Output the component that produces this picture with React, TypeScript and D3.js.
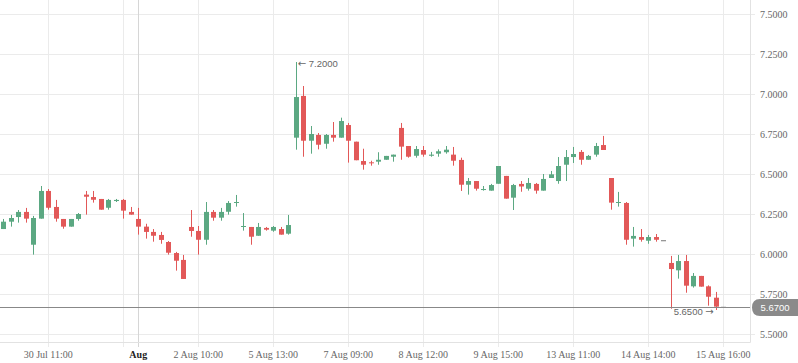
import React, { useRef, useEffect } from 'react';
import * as d3 from 'd3';

// OHLC values, one entry per candle
const opens = [
  6.156, 6.202, 6.231, 6.263, 6.058, 6.221, 6.394, 6.294, 6.219, 6.171,
  6.219, 6.371, 6.356, 6.344, 6.289, 6.331, 6.338, 6.263, 6.219, 6.171,
  6.138, 6.119, 6.075, 6.006, 5.963, 6.169, 6.144, 6.089, 6.263, 6.227,
  6.264, 6.321, 6.171, 6.169, 6.114, 6.163, 6.146, 6.156, 6.127, 6.727,
  6.988, 6.708, 6.744, 6.689, 6.744, 6.727, 6.806, 6.702, 6.581, 6.573,
  6.577, 6.589, 6.608, 6.788, 6.675, 6.614, 6.65, 6.614, 6.627, 6.636,
  6.621, 6.588, 6.433, 6.456, 6.402, 6.396, 6.439, 6.488, 6.352, 6.438,
  6.408, 6.438, 6.396, 6.475, 6.456, 6.558, 6.606, 6.638, 6.589, 6.621,
  6.681, 6.475, 6.321, 6.319, 6.096, 6.106, 6.083, 6.106, 6.086, 5.944,
  5.898, 5.956, 5.798, 5.863, 5.798, 5.727, 5.67
];
const highs = [
  6.219, 6.244, 6.275, 6.288, 6.238, 6.425, 6.406, 6.338, 6.219, 6.219,
  6.256, 6.394, 6.394, 6.344, 6.344, 6.344, 6.344, 6.294, 6.288, 6.189,
  6.156, 6.138, 6.081, 6.013, 5.994, 6.275, 6.175, 6.325, 6.275, 6.288,
  6.331, 6.369, 6.256, 6.169, 6.194, 6.169, 6.175, 6.169, 6.244, 7.2,
  7.05, 6.8, 6.756, 6.75, 6.825, 6.852, 6.819, 6.702, 6.658, 6.583,
  6.636, 6.613, 6.621, 6.819, 6.675, 6.675, 6.675, 6.638, 6.654, 6.675,
  6.669, 6.602, 6.475, 6.456, 6.425, 6.438, 6.55, 6.488, 6.438, 6.456,
  6.475, 6.444, 6.5, 6.519, 6.606, 6.65, 6.669, 6.65, 6.619, 6.694,
  6.738, 6.475, 6.388, 6.325, 6.169, 6.156, 6.119, 6.125, 6.086, 5.988,
  5.994, 5.994, 5.881, 5.863, 5.804, 5.763, 5.67
];
const lows = [
  6.156, 6.171, 6.196, 6.196, 5.996, 6.221, 6.277, 6.202, 6.158, 6.171,
  6.208, 6.246, 6.321, 6.277, 6.277, 6.325, 6.221, 6.246, 6.121, 6.096,
  6.077, 6.064, 5.996, 5.896, 5.844, 6.108, 5.996, 6.058, 6.208, 6.208,
  6.246, 6.296, 6.146, 6.058, 6.114, 6.146, 6.139, 6.121, 6.121, 6.652,
  6.608, 6.627, 6.654, 6.658, 6.702, 6.727, 6.571, 6.586, 6.527, 6.552,
  6.558, 6.589, 6.577, 6.589, 6.602, 6.602, 6.608, 6.608, 6.608, 6.627,
  6.552, 6.394, 6.371, 6.396, 6.396, 6.396, 6.439, 6.346, 6.275, 6.389,
  6.396, 6.377, 6.396, 6.475, 6.439, 6.456, 6.569, 6.558, 6.589, 6.608,
  6.65, 6.277, 6.296, 6.058, 6.046, 6.077, 6.064, 6.077, 6.086, 5.658,
  5.846, 5.758, 5.79, 5.796, 5.677, 5.65, 5.67
];
const closes = [
  6.202, 6.225, 6.263, 6.221, 6.225, 6.394, 6.289, 6.221, 6.171, 6.219,
  6.25, 6.358, 6.339, 6.277, 6.338, 6.338, 6.271, 6.246, 6.171, 6.138,
  6.114, 6.088, 6.008, 5.958, 5.844, 6.144, 6.089, 6.263, 6.227, 6.263,
  6.319, 6.325, 6.175, 6.108, 6.169, 6.152, 6.169, 6.121, 6.181, 6.981,
  6.708, 6.75, 6.683, 6.744, 6.727, 6.831, 6.708, 6.586, 6.558, 6.569,
  6.589, 6.613, 6.621, 6.671, 6.608, 6.656, 6.621, 6.621, 6.642, 6.652,
  6.583, 6.433, 6.456, 6.408, 6.406, 6.431, 6.55, 6.346, 6.431, 6.422,
  6.444, 6.396, 6.469, 6.498, 6.55, 6.606, 6.625, 6.589, 6.613, 6.675,
  6.65, 6.321, 6.325, 6.089, 6.113, 6.089, 6.106, 6.089, 6.086, 5.906,
  5.956, 5.802, 5.863, 5.796, 5.733, 5.671, 5.67
];

// x axis ticks: candle index + label ('' = gridline only)
const tickIndex = [6, 16, 18, 26, 36, 46, 56, 66, 76, 86, 96];
const tickLabels = ['30 Jul 11:00', '', 'Aug', '2 Aug 10:00', '5 Aug 13:00', '7 Aug 09:00',
  '8 Aug 12:00', '9 Aug 15:00', '13 Aug 11:00', '14 Aug 14:00', '15 Aug 16:00'];
const yTicks = [5.5, 5.75, 6.0, 6.25, 6.5, 6.75, 7.0, 7.25, 7.5];

const lastPrice = 5.67;
const maxPrice = 7.2;
const minPrice = 5.65;

const App: React.FC = () => {
  const svgRef = useRef<SVGSVGElement>(null);
  const width = 798;
  const height = 363;
  const plotRight = 750;
  const plotBottom = 342;

  useEffect(() => {
    if (!svgRef.current) return;
    const svg = d3.select(svgRef.current);
    svg.selectAll('*').remove();

    const font = '"Liberation Serif", serif';
    const sans = '"Liberation Sans", Arial, sans-serif';
    const arrowFont = '"DejaVu Sans", sans-serif';
    const up = '#5ba882';
    const down = '#e25858';

    const idx = d3.range(100).map(String);
    const x = d3.scaleBand().domain(idx).range([-0.5, plotRight - 0.5]);
    const cx = (i: number) => (x(String(i)) as number) + x.bandwidth() / 2;
    const y = d3.scaleLinear().domain([5.45, 7.5875]).range([plotBottom, 0]);

    // horizontal grid
    svg.append('g')
      .selectAll('line')
      .data(yTicks)
      .enter()
      .append('line')
      .attr('x1', 0)
      .attr('x2', plotRight + 5)
      .attr('y1', d => Math.round(y(d)) + 0.5)
      .attr('y2', d => Math.round(y(d)) + 0.5)
      .attr('stroke', '#ebebeb');

    // vertical grid
    svg.append('g')
      .selectAll('line')
      .data(tickIndex)
      .enter()
      .append('line')
      .attr('x1', d => Math.round(cx(d)) + 0.5)
      .attr('x2', d => Math.round(cx(d)) + 0.5)
      .attr('y1', 0)
      .attr('y2', plotBottom + 5)
      .attr('stroke', (d, i) => (tickLabels[i] === 'Aug' ? '#d6d6d6' : '#ebebeb'));

    // axis lines
    svg.append('line')
      .attr('x1', plotRight + 0.5).attr('x2', plotRight + 0.5)
      .attr('y1', 0).attr('y2', plotBottom + 0.5)
      .attr('stroke', '#e2e2e2');
    svg.append('line')
      .attr('x1', 0).attr('x2', plotRight + 0.5)
      .attr('y1', plotBottom + 0.5).attr('y2', plotBottom + 0.5)
      .attr('stroke', '#e2e2e2');

    // y labels
    svg.append('g')
      .selectAll('text')
      .data(yTicks)
      .enter()
      .append('text')
      .attr('x', 760)
      .attr('y', d => y(d))
      .attr('dy', '0.35em')
      .attr('font-family', font)
      .attr('font-size', 10)
      .attr('fill', '#666')
      .text(d => d.toFixed(4));

    // x labels
    svg.append('g')
      .selectAll('text')
      .data(tickIndex)
      .enter()
      .append('text')
      .attr('x', d => cx(d))
      .attr('y', 354)
      .attr('dy', '0.35em')
      .attr('text-anchor', 'middle')
      .attr('font-family', font)
      .attr('font-size', 10)
      .attr('font-weight', (d, i) => (tickLabels[i] === 'Aug' ? 'bold' : 'normal'))
      .attr('fill', (d, i) => (tickLabels[i] === 'Aug' ? '#222' : '#666'))
      .text((d, i) => tickLabels[i]);

    // candles
    const candles = svg.append('g')
      .selectAll('g')
      .data(opens.map((o, i) => ({ i, o, h: highs[i], l: lows[i], c: closes[i] })))
      .enter()
      .append('g');
    const colorOf = (d: any) => (d.c > d.o ? up : d.c < d.o ? down : '#777');
    candles.append('line')
      .attr('x1', d => Math.round(cx(d.i)) + 0.5)
      .attr('x2', d => Math.round(cx(d.i)) + 0.5)
      .attr('y1', d => y(d.h))
      .attr('y2', d => y(d.l))
      .attr('stroke', colorOf);
    candles.append('rect')
      .attr('x', d => Math.round(cx(d.i)) - 2)
      .attr('width', 5)
      .attr('y', d => y(Math.max(d.o, d.c)))
      .attr('height', d => Math.max(1, Math.abs(y(d.o) - y(d.c))))
      .attr('fill', colorOf);

    // last price line + label
    const ly = Math.round(y(lastPrice)) + 0.5;
    svg.append('line')
      .attr('x1', 0).attr('x2', plotRight)
      .attr('y1', ly).attr('y2', ly)
      .attr('stroke', '#888');
    const bx = plotRight + 2;
    svg.append('path')
      .attr('d', `M${bx + 8},${ly - 8.5} H${width} V${ly + 8.5} H${bx + 8} Q${bx},${ly + 8.5} ${bx},${ly} Q${bx},${ly - 8.5} ${bx + 8},${ly - 8.5} Z`)
      .attr('fill', '#8a8a8a');
    svg.append('text')
      .attr('x', 775)
      .attr('y', ly)
      .attr('dy', '0.35em')
      .attr('text-anchor', 'middle')
      .attr('font-family', sans)
      .attr('font-size', 9.5)
      .attr('fill', '#fff')
      .text(lastPrice.toFixed(4));

    // max / min annotations
    const maxI = highs.indexOf(d3.max(highs) as number);
    const minI = lows.indexOf(d3.min(lows) as number);
    const maxT = svg.append('text')
      .attr('x', cx(maxI) + 2)
      .attr('y', y(maxPrice) + 1.5)
      .attr('dy', '0.35em')
      .attr('font-family', sans)
      .attr('font-size', 9.5)
      .attr('fill', '#666');
    maxT.append('tspan').attr('font-family', arrowFont).attr('font-size', 10).text('\u2190');
    maxT.append('tspan').text(` ${maxPrice.toFixed(4)}`);

    const minT = svg.append('text')
      .attr('x', cx(minI) - 2)
      .attr('y', y(minPrice) + 2)
      .attr('dy', '0.35em')
      .attr('text-anchor', 'end')
      .attr('font-family', sans)
      .attr('font-size', 9.5)
      .attr('fill', '#666');
    minT.append('tspan').text(`${minPrice.toFixed(4)} `);
    minT.append('tspan').attr('font-family', arrowFont).attr('font-size', 10).text('\u2192');
  }, []);

  return (
    <svg
      ref={svgRef}
      width={width}
      height={height}
      style={{ position: 'absolute', left: 0, top: 0, background: '#fff' }}
    />
  );
};

export default App;
